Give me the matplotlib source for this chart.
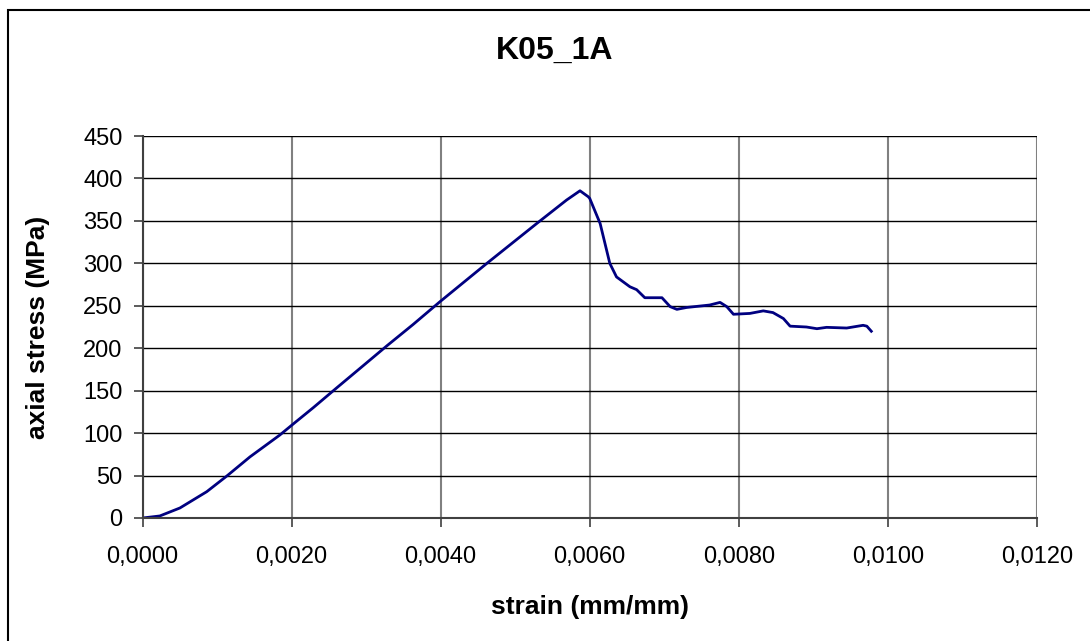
import matplotlib.pyplot as plt
from matplotlib.patches import Rectangle
from matplotlib.ticker import FuncFormatter, MultipleLocator

# test K05_1A - stress/strain readings
strain = [0.0, 0.00023, 0.0005, 0.00086, 0.00113, 0.00144, 0.00184, 0.00202,
          0.00229, 0.0026, 0.00292, 0.00328, 0.00363, 0.00399, 0.00462,
          0.00529, 0.00569, 0.00587, 0.00598, 0.006, 0.00614, 0.00627,
          0.00636, 0.00654, 0.00663, 0.00674, 0.00697, 0.00708, 0.00717,
          0.0073, 0.00761, 0.00775, 0.00784, 0.00793, 0.00815, 0.00833,
          0.00846, 0.0086, 0.00869, 0.00891, 0.00905, 0.00918, 0.00945,
          0.00967, 0.00972, 0.00978]
stress = [0, 2.4, 11.8, 31, 49.5, 72, 97.7, 110.7,
          130, 153, 176.5, 203, 228, 254.8, 300,
          347, 374.6, 385.5, 378.5, 376.6, 347, 300,
          284, 272.4, 269, 259.5, 259.5, 249, 245.8,
          248, 250.9, 254, 249, 240, 241, 244,
          242, 235, 226, 225, 223, 224.6, 223.8,
          227, 226, 220]

plt.rcParams['font.family'] = ['Liberation Sans', 'DejaVu Sans']

fig = plt.figure(figsize=(10.9, 6.41), dpi=100)
ax = fig.add_axes([0.1309, 0.1919, 0.8202, 0.5959])

ax.plot(strain, stress, color='#000080', lw=2.0)

ax.set_xlim(0, 0.012)
ax.set_ylim(0, 450)
ax.xaxis.set_major_locator(MultipleLocator(0.002))
ax.yaxis.set_major_locator(MultipleLocator(50))
ax.xaxis.set_major_formatter(FuncFormatter(lambda v, p: f"{v:.4f}".replace('.', ',')))

ax.grid(axis='y', color='black', lw=1.0)
ax.grid(axis='x', color='#808080', lw=1.5)
ax.set_axisbelow(True)

for s in ['top', 'right']:
    ax.spines[s].set_visible(False)
for s in ['left', 'bottom']:
    ax.spines[s].set_color('#404040')
    ax.spines[s].set_linewidth(1.5)

ax.tick_params(axis='both', direction='out', length=6.5, width=1.2,
               color='#404040', labelsize=17)
ax.tick_params(axis='x', pad=14)
ax.tick_params(axis='y', pad=8)

ax.set_xlabel('strain (mm/mm)', fontsize=19, fontweight='bold', labelpad=19)
ax.set_ylabel('axial stress (MPa)', fontsize=19, fontweight='bold', labelpad=24)
fig.text(0.509, 0.92, 'K05_1A', fontsize=23, fontweight='bold',
         ha='center', va='center')

# chart frame
fig.patches.append(Rectangle((8 / 1090, -0.1), 1.2, 1.1 - 10 / 641,
                             transform=fig.transFigure, fill=False,
                             edgecolor='black', lw=1.5))

fig.savefig('out.png', dpi=100)
